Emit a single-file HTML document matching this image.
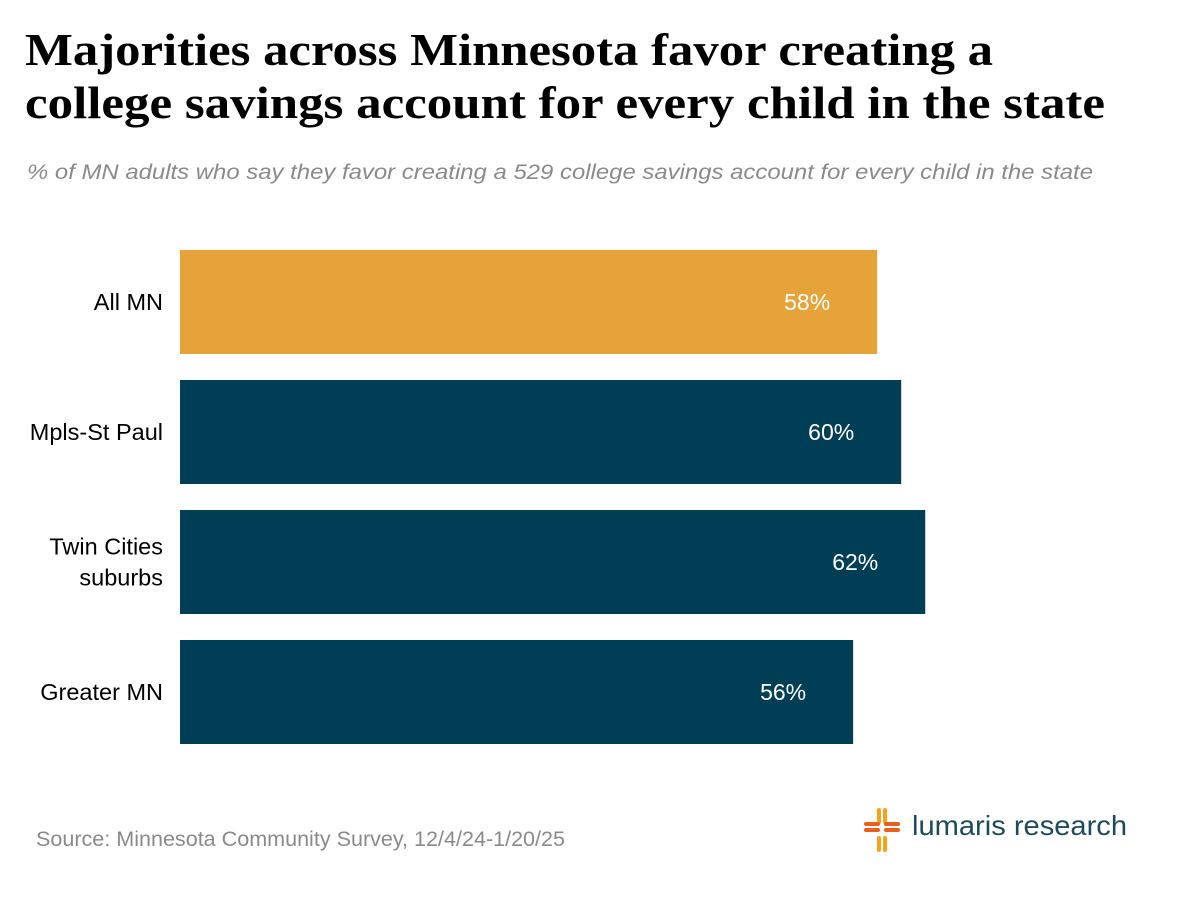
<!DOCTYPE html>
<html><head><meta charset="utf-8"><style>
body{margin:0;width:1200px;height:900px;background:#fff;overflow:hidden;position:relative;font-family:"Liberation Sans",sans-serif}
</style></head><body>
<svg width="1200" height="900" style="position:absolute;left:0;top:0">
<text x="25" y="65" font-family="Liberation Serif" font-weight="bold" font-size="46" fill="#000" textLength="968" lengthAdjust="spacingAndGlyphs">Majorities across Minnesota favor creating a</text>
<text x="25" y="118" font-family="Liberation Serif" font-weight="bold" font-size="46" fill="#000" textLength="1080" lengthAdjust="spacingAndGlyphs">college savings account for every child in the state</text>
<text x="27" y="179" font-family="Liberation Sans" font-style="italic" font-size="21" fill="#8a8a8a" textLength="1066" lengthAdjust="spacingAndGlyphs">% of MN adults who say they favor creating a 529 college savings account for every child in the state</text>
<g id="bars"></g>
<text x="36" y="846" font-family="Liberation Sans" font-size="21.5" fill="#8a8a8a" textLength="529" lengthAdjust="spacingAndGlyphs">Source: Minnesota Community Survey, 12/4/24-1/20/25</text>
<g stroke-width="4" fill="none" stroke-linecap="round">
<path d="M879 810v12M885 810v12M879 838v12M885 838v12" stroke="#f7a21b"/>
<path d="M866 824h12M866 830h12M886 824h12M886 830h12" stroke="#e8601c"/>
</g>
<text x="912" y="835" font-family="Liberation Sans" font-size="28" fill="#1f4a5a" textLength="215" lengthAdjust="spacingAndGlyphs">lumaris research</text>
</svg>
<script>
const categories=[["All MN"],["Mpls-St Paul"],["Twin Cities","suburbs"],["Greater MN"]];
const values=[58,60,62,56];
const colors=["#e5a33a","#003e55","#003e55","#003e55"];
const x0=180,pxPer=12.02,y0=250,step=130,bh=104;
const xs=v=>x0+v*pxPer;
const g=document.getElementById('bars');
const NS="http://www.w3.org/2000/svg";
values.forEach((v,i)=>{
 const y=y0+i*step;
 const r=document.createElementNS(NS,'rect');
 r.setAttribute('x',x0);r.setAttribute('y',y);r.setAttribute('width',xs(v)-x0);r.setAttribute('height',bh);r.setAttribute('fill',colors[i]);
 
 
 g.appendChild(r);
 const t=document.createElementNS(NS,'text');
 t.setAttribute('x',xs(v)-70);t.setAttribute('y',y+bh/2+8);t.setAttribute('text-anchor','middle');
 t.setAttribute('font-size','23');t.setAttribute('fill','#fff');t.setAttribute('font-family','Liberation Sans');
 t.textContent=v+'%';
 
 
 g.appendChild(t);
 const lines=categories[i];
 lines.forEach((ln,j)=>{
  const c=document.createElementNS(NS,'text');
  c.setAttribute('x',163);c.setAttribute('text-anchor','end');
  c.setAttribute('y',y+bh/2+8+(j-(lines.length-1)/2)*31);
  c.setAttribute('font-size','23.5');c.setAttribute('fill','#000');c.setAttribute('font-family','Liberation Sans');
  c.textContent=ln;
  
  
  g.appendChild(c);
 });
});
</script>
</body></html>
